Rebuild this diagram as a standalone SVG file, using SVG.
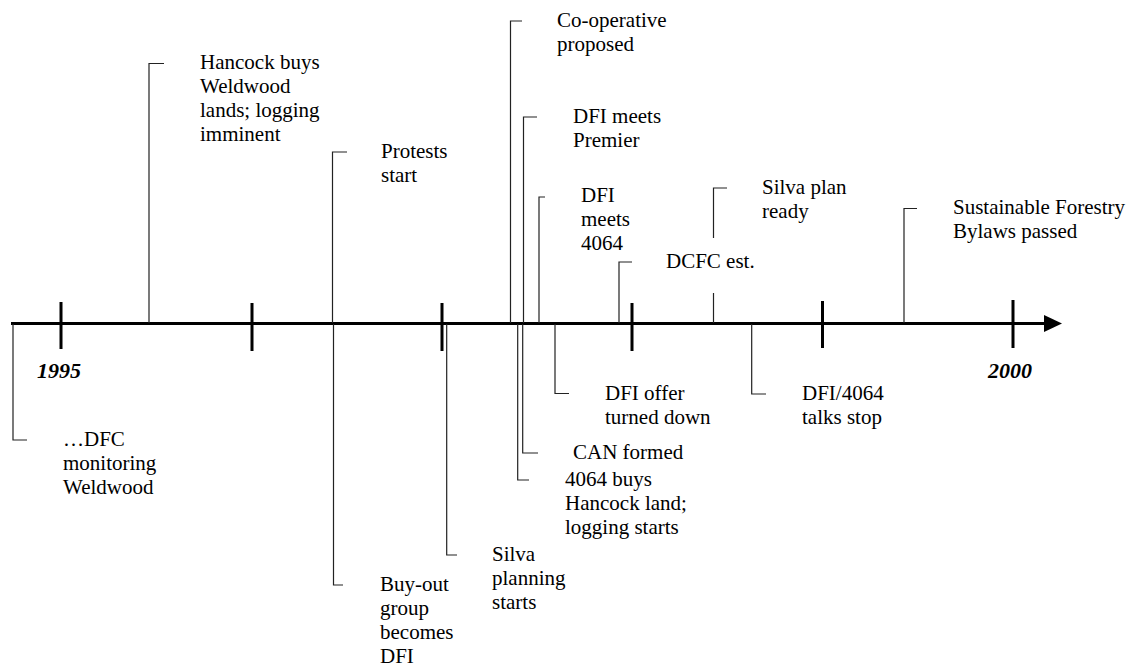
<svg xmlns="http://www.w3.org/2000/svg" width="1144" height="668" viewBox="0 0 1144 668" font-family="'Liberation Serif', 'Times New Roman', Tinos, 'DejaVu Serif', serif">
<style>
text{font-family:'Liberation Serif','Times New Roman',Tinos,'DejaVu Serif',serif;font-size:21px;fill:#000}
.yr{font-weight:bold;font-style:italic;font-size:22px}
.c{fill:none;stroke:#222;stroke-width:1.2}
.ax{stroke:#000;stroke-width:3;fill:none}
</style>
<rect width="1144" height="668" fill="#fff"/>
<g id="axis">
<line class="ax" x1="11" y1="323.5" x2="1047" y2="323.5"/>
<polygon points="1044,315 1062,323.5 1044,332" fill="#000"/>
<path class="ax" d="M61,302V349M252,303V351M442,303V351M632,303V351M822.5,301V348M1013,300V348"/>
<text class="yr" x="37" y="378">1995</text>
<text class="yr" x="988" y="378">2000</text>
</g>
<g id="connectors">
<polyline class="c" points="149,323 149,63.5 164,63.5"/>
<polyline class="c" points="332.5,323 332.5,152 347,152"/>
<polyline class="c" points="510.5,323 510.5,21 522,21"/>
<polyline class="c" points="523.5,323 523.5,117 537,117"/>
<polyline class="c" points="539,323 539,197 545,197"/>
<polyline class="c" points="619,323 619,262 632,262"/>
<polyline class="c" points="713.5,238 713.5,188 727,188"/>
<line class="c" x1="713.5" y1="293" x2="713.5" y2="323"/>
<polyline class="c" points="904,323 904,208.5 917,208.5"/>
<polyline class="c" points="13,324 13,440 27,440"/>
<polyline class="c" points="333.5,324 333.5,585 343,585"/>
<polyline class="c" points="446.7,324 446.7,555 457,555"/>
<polyline class="c" points="517.7,324 517.7,480 529,480"/>
<polyline class="c" points="522.7,324 522.7,453 538,453"/>
<polyline class="c" points="555,324 555,393.5 569,393.5"/>
<polyline class="c" points="751.7,324 751.7,394 766,394"/>
</g>
<g id="n-hancock"><text x="200" y="69">Hancock buys</text><text x="200" y="93">Weldwood</text><text x="200" y="117">lands; logging</text><text x="200" y="141">imminent</text></g>
<g id="n-protests"><text x="381" y="158">Protests</text><text x="381" y="182">start</text></g>
<g id="n-coop"><text x="557" y="27">Co-operative</text><text x="557" y="51">proposed</text></g>
<g id="n-premier"><text x="573" y="123">DFI meets</text><text x="573" y="147">Premier</text></g>
<g id="n-meets4064"><text x="581" y="202">DFI</text><text x="581" y="226">meets</text><text x="581" y="250">4064</text></g>
<g id="n-dcfc"><text x="666" y="268">DCFC est.</text></g>
<g id="n-silvaplan"><text x="762" y="194">Silva plan</text><text x="762" y="218">ready</text></g>
<g id="n-bylaws"><text x="953" y="214">Sustainable Forestry</text><text x="953" y="238">Bylaws passed</text></g>
<g id="n-dfc"><text x="63" y="446">…DFC</text><text x="63" y="470">monitoring</text><text x="63" y="494">Weldwood</text></g>
<g id="n-buyout"><text x="380" y="591">Buy-out</text><text x="380" y="615">group</text><text x="380" y="639">becomes</text><text x="380" y="663">DFI</text></g>
<g id="n-silvaplanning"><text x="492" y="561">Silva</text><text x="492" y="585">planning</text><text x="492" y="609">starts</text></g>
<g id="n-4064buys"><text x="565" y="486">4064 buys</text><text x="565" y="510">Hancock land;</text><text x="565" y="534">logging starts</text></g>
<g id="n-can"><text x="573" y="459">CAN formed</text></g>
<g id="n-offer"><text x="605" y="400">DFI offer</text><text x="605" y="424">turned down</text></g>
<g id="n-talks"><text x="802" y="400">DFI/4064</text><text x="802" y="424">talks stop</text></g>
</svg>
